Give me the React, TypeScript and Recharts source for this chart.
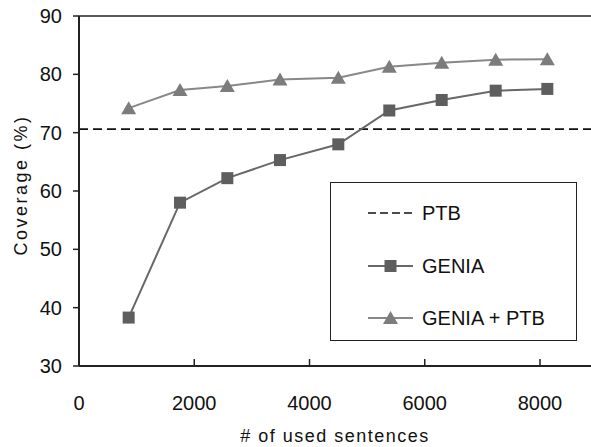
import { LineChart, Line, XAxis, YAxis, ReferenceLine, Legend } from 'recharts';

const sentences = [862, 1753, 2574, 3488, 4500, 5385, 6294, 7231, 8127];
const genia = [38.3, 58.0, 62.2, 65.3, 68.0, 73.8, 75.6, 77.2, 77.5];
const geniaPtb = [74.2, 77.3, 78.0, 79.1, 79.4, 81.3, 82.0, 82.5, 82.6];
const ptbCoverage = 70.6;
const xTicks = [0, 2000, 4000, 6000, 8000];
const yTicks = [30, 40, 50, 60, 70, 80, 90];

const data = sentences.map((x, i) => ({ x, genia: genia[i], geniaPtb: geniaPtb[i] }));

const FONT = '"Liberation Sans", Arial, sans-serif';
const GENIA_COLOR = '#5e5e5e';
const GENIA_LINE = '#686868';
const BOTH_COLOR = '#7c7c7c';
const BOTH_LINE = '#888888';

function Square({ cx, cy }: { cx: number; cy: number }) {
  return <rect x={cx - 6} y={cy - 6} width={12} height={12} fill={GENIA_COLOR} />;
}

function Triangle({ cx, cy }: { cx: number; cy: number }) {
  return <polygon points={`${cx},${cy - 7} ${cx - 7.5},${cy + 6} ${cx + 7.5},${cy + 6}`} fill={BOTH_COLOR} />;
}

function XTick(props: any) {
  const { x, y, payload } = props;
  return (
    <g>
      <line x1={x} y1={y} x2={x} y2={y - 7} stroke="#222" strokeWidth={1.5} />
      <text x={x} y={y + 44} textAnchor="middle" fontSize={20} fill="#111" fontFamily={FONT}>
        {payload.value}
      </text>
    </g>
  );
}

function LegendBox() {
  const row = (top: number, sample: JSX.Element, label: string) => (
    <div style={{ position: 'absolute', left: 36, top: top - 12, height: 24, display: 'flex', alignItems: 'center' }}>
      <svg width={48} height={24}>{sample}</svg>
      <span style={{ marginLeft: 7, fontSize: 20, color: '#111', fontFamily: FONT }}>{label}</span>
    </div>
  );
  return (
    <div style={{ position: 'relative', width: 247, height: 159, border: '1px solid #222', boxSizing: 'border-box', background: '#fff' }}>
      {row(30, <line x1={1} y1={12} x2={46} y2={12} stroke="#111" strokeWidth={1.5} strokeDasharray="8 4" />, 'PTB')}
      {row(83, <g><line x1={1} y1={12} x2={46} y2={12} stroke={GENIA_LINE} strokeWidth={2} /><Square cx={23.5} cy={12} /></g>, 'GENIA')}
      {row(135, <g><line x1={1} y1={12} x2={46} y2={12} stroke={BOTH_LINE} strokeWidth={2} /><Triangle cx={23.5} cy={12} /></g>, 'GENIA + PTB')}
    </div>
  );
}

export default function App() {
  return (
    <div style={{ position: 'absolute', left: 0, top: 0, width: 591, height: 447, background: '#fff', fontFamily: FONT }}>
      <LineChart width={591} height={447} data={data} margin={{ top: 16, right: 0, left: 19, bottom: 0 }}>
        <XAxis
          type="number"
          dataKey="x"
          domain={[0, 8885]}
          ticks={xTicks}
          height={81}
          tickLine={false}
          tickSize={0}
          tickMargin={0}
          tick={<XTick />}
          axisLine={{ stroke: '#222', strokeWidth: 2 }}
          label={{
            content: (p: any) => (
              <text
                x={p.viewBox.x + p.viewBox.width / 2}
                y={p.viewBox.y + p.viewBox.height - 5}
                textAnchor="middle"
                fontSize={18}
                letterSpacing={1.5}
                fill="#111"
                fontFamily={FONT}
              >
                # of used sentences
              </text>
            ),
          }}
        />
        <YAxis
          type="number"
          domain={[30, 90]}
          ticks={yTicks}
          width={60}
          tickSize={6}
          tickMargin={11}
          tick={{ fontSize: 20, fill: '#111', fontFamily: FONT }}
          tickLine={{ stroke: '#222', strokeWidth: 1.5 }}
          axisLine={{ stroke: '#222', strokeWidth: 2 }}
          label={{
            content: (p: any) => {
              const cx = p.viewBox.x + 2;
              const cy = p.viewBox.y + p.viewBox.height / 2 - 6;
              return (
                <text
                  x={cx}
                  y={cy}
                  transform={`rotate(-90, ${cx}, ${cy})`}
                  textAnchor="middle"
                  dominantBaseline="central"
                  fontSize={18}
                  letterSpacing={2.5}
                  fill="#111"
                  fontFamily={FONT}
                >
                  Coverage (%)
                </text>
              );
            },
          }}
        />
        <ReferenceLine y={90} stroke="#222" strokeWidth={1.5} />
        <ReferenceLine y={ptbCoverage} stroke="#111" strokeWidth={1.8} strokeDasharray="9 5" />
        <Line
          dataKey="genia"
          stroke={GENIA_LINE}
          strokeWidth={2}
          dot={(p: any) => <Square key={`g${p.index}`} cx={p.cx} cy={p.cy} />}
          isAnimationActive={false}
        />
        <Line
          dataKey="geniaPtb"
          stroke={BOTH_LINE}
          strokeWidth={2}
          dot={(p: any) => <Triangle key={`t${p.index}`} cx={p.cx} cy={p.cy} />}
          isAnimationActive={false}
        />
        <Legend
          layout="horizontal"
          verticalAlign="middle"
          align="center"
          content={() => <LegendBox />}
          wrapperStyle={{ left: 330, top: 182, width: 247, height: 159 }}
        />
      </LineChart>
    </div>
  );
}
